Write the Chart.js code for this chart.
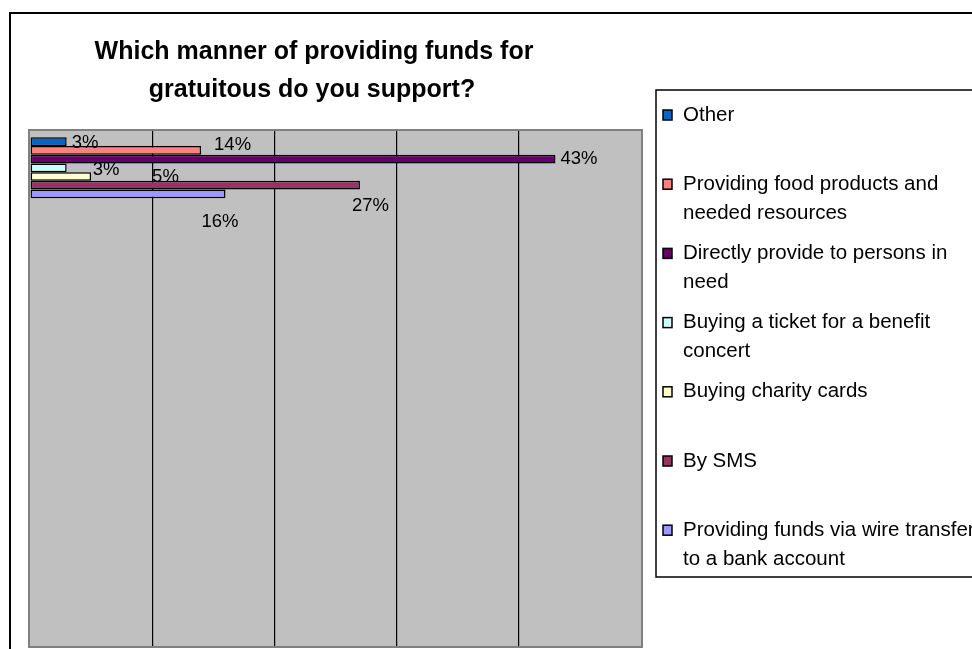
<!DOCTYPE html>
<html>
<head>
<meta charset="utf-8">
<title>Manner of providing funds</title>
<script src="https://cdn.jsdelivr.net/npm/chart.js@4/dist/chart.umd.min.js"></script>
<style>
    html, body { margin: 0; padding: 0; background: #ffffff; }
    #wrap { width: 972px; height: 649px; overflow: hidden; }
</style>
</head>
<body>
<div id="wrap"><canvas id="fundsChart" width="972" height="649"></canvas></div>
<script>
// ── Survey data ───────────────────────────────────────────────────────────────
const titleLines = ["Which manner of providing funds for", "gratuitous do you support?"];

// one answered question, the remaining slots stay empty
const categories = ["Manner of providing funds", "", "", "", "", "", ""];

const seriesNames = [
    "Other",
    "Providing food products and\nneeded resources",
    "Directly provide to persons in\nneed",
    "Buying a ticket for a benefit\nconcert",
    "Buying charity cards",
    "By SMS",
    "Providing funds via wire transfer\nto a bank account"
];
const shares = [3, 14, 43, 3, 5, 27, 16];   // percent of respondents

const seriesColors = ["#0066CC", "#FF8080", "#660066", "#CCFFFF", "#FFFFCC", "#993366", "#9999FF"];

// value axis
const axisMin  = 0;
const axisMax  = 50;
const axisStep = 10;

// where each percentage label sits relative to the end of its bar
const labelNudge = [
    { dx: 5,   dy: 1 },
    { dx: 13,  dy: -5 },
    { dx: 5,   dy: 0 },
    { dx: 26,  dy: 2 },
    { dx: 61,  dy: 0 },
    { dx: -8,  dy: 21 },
    { dx: -24, dy: 28 }
];

const FONT = '"Liberation Sans", Arial, Helvetica, sans-serif';

// ── Frame, plot background, title and legend ──────────────────────────────────
const decorations = {
    id: "decorations",
    beforeDraw(chart) {
        const { ctx, chartArea: a } = chart;
        ctx.save();
        ctx.fillStyle = "#ffffff";
        ctx.fillRect(0, 0, chart.width, chart.height);

        // outer chart border
        ctx.strokeStyle = "#000000";
        ctx.lineWidth = 2;
        ctx.strokeRect(10, 13, chart.width + 20, chart.height + 20);

        // grey plot area
        ctx.fillStyle = "#C0C0C0";
        ctx.fillRect(a.left, a.top, a.right - a.left, a.bottom - a.top);
        ctx.restore();
    },
    beforeDatasetsDraw(chart) {
        const { ctx, chartArea: a } = chart;
        ctx.save();
        ctx.strokeStyle = "#808080";
        ctx.lineWidth = 2;
        ctx.strokeRect(a.left - 1, a.top - 1, a.right - a.left + 2, a.bottom - a.top + 2);
        ctx.restore();
    },
    afterDraw(chart) {
        const { ctx } = chart;
        ctx.save();

        // title
        ctx.fillStyle = "#000000";
        ctx.font = "bold 25px " + FONT;
        ctx.textAlign = "center";
        ctx.textBaseline = "alphabetic";
        ctx.fillText(titleLines[0], 314, 59);
        ctx.fillText(titleLines[1], 312, 97);

        // legend box
        const box = { left: 656, top: 90, right: 1000, bottom: 577 };
        ctx.strokeStyle = "#000000";
        ctx.lineWidth = 1.5;
        ctx.strokeRect(box.left, box.top, box.right - box.left, box.bottom - box.top);

        const step = 69.2;
        const lineGap = 29;
        ctx.font = "20.5px " + FONT;
        ctx.textAlign = "left";
        ctx.textBaseline = "middle";
        chart.data.datasets.forEach((ds, i) => {
            const y = box.top + 25 + i * step;
            ctx.fillStyle = ds.backgroundColor;
            ctx.fillRect(663, y - 5, 9, 10);
            ctx.strokeStyle = "#000000";
            ctx.lineWidth = 1.5;
            ctx.strokeRect(663, y - 5, 9, 10);
            ctx.fillStyle = "#000000";
            ds.label.split("\n").forEach((line, k) => {
                ctx.fillText(line, 683, y + k * lineGap);
            });
        });
        ctx.restore();
    }
};

// ── Percentage labels next to the bars ────────────────────────────────────────
const valueLabels = {
    id: "valueLabels",
    afterDatasetsDraw(chart) {
        const { ctx } = chart;
        ctx.save();
        ctx.fillStyle = "#000000";
        ctx.font = "18.5px " + FONT;
        ctx.textAlign = "left";
        ctx.textBaseline = "middle";
        chart.data.datasets.forEach((ds, i) => {
            const bar = chart.getDatasetMeta(i).data[0];
            if (!bar) return;
            const n = labelNudge[i];
            ctx.fillText(ds.data[0] + "%", bar.x + n.dx, bar.y + n.dy);
        });
        ctx.restore();
    }
};

// ── Chart setup ───────────────────────────────────────────────────────────────
const ctx = document.getElementById("fundsChart").getContext("2d");
const chart = new Chart(ctx, {
    type: "bar",
    data: {
        labels: categories,
        datasets: seriesNames.map((name, i) => ({
            label: name,
            data: [shares[i]],
            backgroundColor: seriesColors[i],
            borderColor: "#000000",
            borderWidth: 1.5,
            borderSkipped: false,
            barPercentage: 1.0,
            categoryPercentage: 0.83
        }))
    },
    options: {
        indexAxis: "y",
        responsive: false,
        animation: false,
        devicePixelRatio: 1,
        layout: { padding: { left: 30, top: 131, right: 331, bottom: 3 } },
        plugins: {
            legend: { display: false },
            title: { display: false },
            tooltip: { enabled: false }
        },
        scales: {
            x: {
                min: axisMin,
                max: axisMax,
                ticks: { display: false, stepSize: axisStep },
                border: { display: false },
                grid: {
                    drawTicks: false,
                    lineWidth: 1.2,
                    color: c => (c.tick && (c.tick.value === axisMin || c.tick.value === axisMax))
                        ? "rgba(0,0,0,0)" : "#000000"
                }
            },
            y: {
                display: false
            }
        }
    },
    plugins: [decorations, valueLabels]
});
</script>
</body>
</html>
